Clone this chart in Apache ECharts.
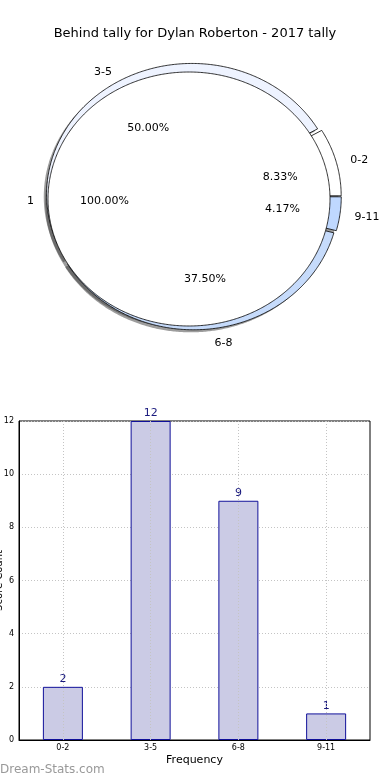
<!DOCTYPE html>
<html>
<head>
<meta charset="utf-8">
<script src="https://cdn.jsdelivr.net/npm/echarts@6/dist/echarts.min.js"></script>
<style>
html,body{margin:0;padding:0;background:#fff;}
#chart{width:390px;height:780px;}
</style>
</head>
<body>
<div id="chart"></div>
<script>
const TITLE = 'Behind tally for Dylan Roberton - 2017 tally';
const categories = ['0-2', '3-5', '6-8', '9-11'];
const counts = [2, 12, 9, 1];
const innerCategories = ['1'];
const innerCounts = [1];
const yMin = 0, yMax = 12, yInterval = 2;
const xAxisName = 'Frequency';
const yAxisName = 'Score Count';
const WATERMARK = 'Dream-Stats.com';

const FONT = 'DejaVu Sans';
const outerColors = ['#ffffff', '#eef3ff', '#c6dbfb', '#bfd8ff'];
const R_OUT = 1.03, EXPLODE = 0.02, R_IN = 1.0;
const OUT_OX = 0.03, OUT_OY = 0.02;
const LABEL_DY = 2;

function cumData(vals) {
  const total = vals.reduce((a, b) => a + b, 0);
  let acc = 0;
  return vals.map((v, i) => {
    const s = acc / total; acc += v;
    return [s, acc / total, v / total, i];
  });
}
const outerData = cumData(counts);
const innerData = cumData(innerCounts);

function wedgePoints(api, a0, a1, r, cx, cy) {
  const full = (a1 - a0) >= Math.PI * 2 - 1e-9;
  const pts = full ? [] : [api.coord([cx, cy])];
  const n = Math.max(4, Math.ceil((a1 - a0) / 0.01));
  for (let k = 0; k <= n; k++) {
    const a = a0 + (a1 - a0) * k / n;
    pts.push(api.coord([cx + r * Math.cos(a), cy + r * Math.sin(a)]));
  }
  return pts;
}

function makeWedge(kind) {
  return function (params, api) {
    const s = api.value(0), e = api.value(1), idx = api.value(3);
    const a0 = s * Math.PI * 2, a1 = e * Math.PI * 2;
    const mid = (a0 + a1) / 2;
    const isOuter = kind.indexOf('outer') === 0;
    const ex = isOuter ? OUT_OX + EXPLODE * Math.cos(mid) : 0;
    const ey = isOuter ? OUT_OY + EXPLODE * Math.sin(mid) : 0;
    const r = isOuter ? R_OUT : R_IN;
    const shadow = kind.indexOf('Shadow') > 0;
    const ox = shadow ? -0.02 : 0, oy = shadow ? -0.02 : 0;
    const pts = wedgePoints(api, a0, a1, r, ex + ox, ey + oy);
    if (shadow) {
      return { type: 'polygon', shape: { points: pts }, style: { fill: 'rgba(60,60,60,0.5)', stroke: null } };
    }
    return {
      type: 'polygon', shape: { points: pts },
      style: { fill: isOuter ? outerColors[idx] : '#ffffff', stroke: '#000', lineWidth: 0.8 }
    };
  };
}

function makeLabels(isOuter) {
  const names = isOuter ? categories : innerCategories;
  return function (params, api) {
    const s = api.value(0), e = api.value(1), frac = api.value(2), idx = api.value(3);
    const mid = (s + e) * Math.PI;
    const c = Math.cos(mid), sn = Math.sin(mid);
    const ex = isOuter ? OUT_OX + EXPLODE * c : 0, ey = isOuter ? OUT_OY + EXPLODE * sn : 0;
    const r = isOuter ? R_OUT : R_IN;
    const lp = api.coord([ex + 1.1 * r * c, ey + 1.1 * r * sn]);
    const pp = api.coord([ex + 0.6 * r * c, ey + 0.6 * r * sn]);
    return {
      type: 'group',
      children: [
        { type: 'text', x: lp[0], y: lp[1] + LABEL_DY, style: { text: names[idx], textAlign: c >= 0 ? 'left' : 'right', textVerticalAlign: 'middle', fontSize: 11, fontFamily: FONT, fill: '#000' } },
        { type: 'text', x: pp[0], y: pp[1] + LABEL_DY, style: { text: (frac * 100).toFixed(2) + '%', textAlign: 'center', textVerticalAlign: 'middle', fontSize: 11, fontFamily: FONT, fill: '#000' } }
      ]
    };
  };
}

const chart = echarts.init(document.getElementById('chart'), null, { renderer: 'canvas' });
chart.setOption({
  animation: false,
  backgroundColor: '#ffffff',
  textStyle: { fontFamily: FONT },
  title: {
    text: TITLE, left: 'center', top: 22,
    textStyle: { fontSize: 13, fontWeight: 'normal', color: '#000', fontFamily: FONT }
  },
  graphic: [{
    type: 'text', left: 0, top: 764,
    style: { text: WATERMARK, fontSize: 12, fontWeight: 'normal', fontFamily: FONT, fill: '#999999' }
  }],
  grid: [
    { left: 48, top: 72, width: 282, height: 254, show: false, outerBoundsMode: 'none' },
    { left: 19, right: 20, top: 421, bottom: 40, show: true, borderColor: '#000', borderWidth: 1, backgroundColor: 'transparent', outerBoundsMode: 'none', containLabel: false }
  ],
  xAxis: [
    { gridIndex: 0, type: 'value', min: -1, max: 1, show: false },
    {
      gridIndex: 1, type: 'category', data: categories,
      name: xAxisName, nameLocation: 'middle', nameGap: 15, nameMoveOverlap: false,
      nameTextStyle: { fontSize: 11, color: '#000', fontFamily: FONT },
      axisLine: { lineStyle: { color: '#000' } },
      axisTick: { show: false },
      axisLabel: { fontSize: 8, color: '#000', margin: 4, fontFamily: FONT },
      splitLine: { show: false }
    }
  ],
  yAxis: [
    { gridIndex: 0, type: 'value', min: -1, max: 1, show: false },
    {
      gridIndex: 1, type: 'value', min: yMin, max: yMax, interval: yInterval,
      name: yAxisName, nameLocation: 'middle', nameGap: 15, nameRotate: 90, nameMoveOverlap: false,
      nameTextStyle: { fontSize: 10, color: '#000', fontFamily: FONT },
      axisLine: { show: true, lineStyle: { color: '#000' } },
      axisTick: { show: false },
      axisLabel: { fontSize: 8, color: '#000', margin: 5, fontFamily: FONT },
      splitLine: { show: true, lineStyle: { color: '#c4c4c4', type: [1, 2], width: 1 } }
    }
  ],
  series: [
    { type: 'custom', xAxisIndex: 0, yAxisIndex: 0, clip: false, z: 1, data: outerData, renderItem: makeWedge('outerShadow'), silent: true },
    { type: 'custom', xAxisIndex: 0, yAxisIndex: 0, clip: false, z: 1, data: innerData, renderItem: makeWedge('innerShadow'), silent: true },
    { type: 'custom', xAxisIndex: 0, yAxisIndex: 0, clip: false, z: 2, data: outerData, renderItem: makeWedge('outer'), silent: true },
    { type: 'custom', xAxisIndex: 0, yAxisIndex: 0, clip: false, z: 3, data: innerData, renderItem: makeWedge('inner'), silent: true },
    { type: 'custom', xAxisIndex: 0, yAxisIndex: 0, clip: false, z: 4, data: outerData, renderItem: makeLabels(true), silent: true },
    { type: 'custom', xAxisIndex: 0, yAxisIndex: 0, clip: false, z: 4, data: innerData, renderItem: makeLabels(false), silent: true },
    {
      type: 'bar', xAxisIndex: 1, yAxisIndex: 1, data: counts, barWidth: 40,
      itemStyle: { color: '#cbcbe5', borderColor: '#10109a', borderWidth: 1 },
      label: { show: true, position: 'top', distance: 2, fontSize: 11, color: '#1a1a7e', fontFamily: FONT },
      markLine: {
        silent: true, symbol: 'none', label: { show: false },
        lineStyle: { color: '#c4c4c4', type: [1, 2], width: 1 },
        data: categories.map(c => ({ xAxis: c }))
      }
    }
  ]
});
</script>
</body>
</html>
